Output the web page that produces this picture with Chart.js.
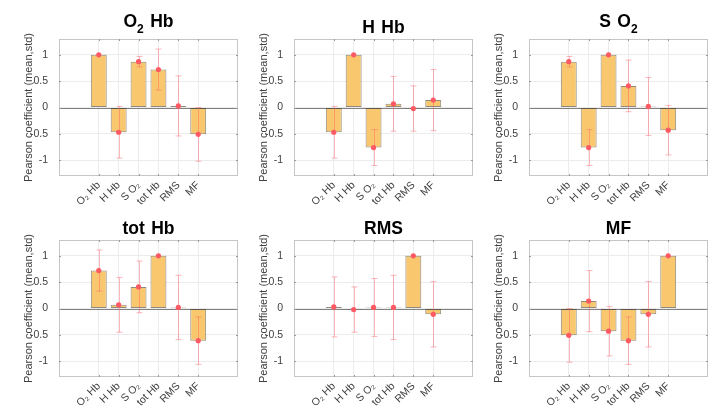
<!DOCTYPE html>
<html>
<head>
<meta charset="utf-8">
<title>Pearson coefficients</title>
<script src="https://cdn.jsdelivr.net/npm/chart.js@4.4.0/dist/chart.umd.min.js"></script>
<style>
  body { margin: 0; background: #fff; }
  #fig { position: relative; width: 722px; height: 420px; overflow: hidden; }
  #fig canvas { position: absolute; }
</style>
</head>
<body>
<div id="fig"></div>
<script>
// categories on the x axis (also used as panel titles)
const categories = ['O₂ Hb', 'H Hb', 'S O₂', 'tot Hb', 'RMS', 'MF'];
const yTicks = [-1, -0.5, 0, 0.5, 1];

// mean and std of the Pearson coefficient, one pair per panel
const meanO2Hb  = [1.00, -0.47, 0.87, 0.72, 0.03, -0.51];
const stdO2Hb   = [0.00, 0.49, 0.10, 0.39, 0.57, 0.51];
const meanHHb   = [-0.47, 1.00, -0.76, 0.07, -0.02, 0.14];
const stdHHb    = [0.49, 0.00, 0.34, 0.52, 0.43, 0.58];
const meanSO2   = [0.87, -0.76, 1.00, 0.41, 0.02, -0.43];
const stdSO2    = [0.10, 0.34, 0.00, 0.49, 0.55, 0.47];
const meanTotHb = [0.72, 0.07, 0.41, 1.00, 0.02, -0.61];
const stdTotHb  = [0.39, 0.52, 0.49, 0.00, 0.61, 0.45];
const meanRMS   = [0.03, -0.02, 0.02, 0.02, 1.00, -0.11];
const stdRMS    = [0.57, 0.43, 0.55, 0.61, 0.00, 0.62];
const meanMF    = [-0.51, 0.14, -0.43, -0.61, -0.11, 1.00];
const stdMF     = [0.51, 0.58, 0.47, 0.45, 0.62, 0.00];

const panels = [
    { title: categories[0], mean: meanO2Hb, std: stdO2Hb },
    { title: categories[1], mean: meanHHb, std: stdHHb },
    { title: categories[2], mean: meanSO2, std: stdSO2 },
    { title: categories[3], mean: meanTotHb, std: stdTotHb },
    { title: categories[4], mean: meanRMS, std: stdRMS },
    { title: categories[5], mean: meanMF, std: stdMF },
];

const FONT = '"Liberation Sans", Arial, Helvetica, sans-serif';
const barFill = 'rgb(249, 200, 110)';
const barEdge = 'rgba(70, 60, 40, 0.6)';
const errColor = 'rgba(255, 95, 105, 0.45)';
const dotColor = 'rgb(255, 90, 100)';
const gridColor = '#ececec';
const boxColor = '#c6c6c6';
const tickColor = '#9a9a9a';
const textColor = '#404040';

// layout of the 2x3 grid
const axLeft = [59, 294, 529];
const axTop = [39, 240];
const axW = 179, axH = 137;
const yAxisW = 59, xAxisH = 43;
const canvasW = 245, canvasH = axTop[0] + axH + xAxisH;

function drawTitle(ctx, text, cx, top) {
    const hasSub = text.includes('₂');
    const base = hasSub ? top - 12 : top - 6;
    const big = 'bold 17.5px ' + FONT;
    const small = 'bold 12px ' + FONT;
    const chars = [...text].map(ch => {
        const sub = ch === '₂';
        const t = sub ? '2' : ch;
        ctx.font = sub ? small : big;
        let w = ctx.measureText(t).width;
        if (ch === ' ') w += 1.5;
        return { t, sub, w };
    });
    const total = chars.reduce((a, c) => a + c.w, 0);
    let x = cx - total / 2;
    ctx.fillStyle = '#000';
    ctx.textAlign = 'left';
    ctx.textBaseline = 'alphabetic';
    chars.forEach(c => {
        ctx.font = c.sub ? small : big;
        if (c.t !== ' ') ctx.fillText(c.t, x, c.sub ? base + 6 : base);
        x += c.w;
    });
}

const decor = {
    id: 'decor',
    beforeDatasetsDraw(chart) {
        const { ctx, chartArea: a, scales: { y } } = chart;
        const y0 = Math.round(y.getPixelForValue(0)) + 0.5;
        ctx.save();
        ctx.strokeStyle = '#808080';
        ctx.lineWidth = 1;
        ctx.beginPath();
        ctx.moveTo(a.left, y0);
        ctx.lineTo(a.right, y0);
        ctx.stroke();
        ctx.restore();
    },
    afterDatasetDraw(chart, args) {
        if (args.meta.type !== 'bar') return;
        const ds = chart.data.datasets[args.index];
        const { ctx, scales: { x, y } } = chart;
        ctx.save();
        ctx.strokeStyle = errColor;
        ctx.lineWidth = 1;
        ds.errors.forEach((s, i) => {
            if (!s) return;
            const m = ds.data[i].y;
            const px = Math.round(x.getPixelForValue(ds.data[i].x)) + 0.5;
            const y1 = y.getPixelForValue(m + s);
            const y2 = y.getPixelForValue(m - s);
            ctx.beginPath();
            ctx.moveTo(px, y1); ctx.lineTo(px, y2);
            ctx.moveTo(px - 3, y1); ctx.lineTo(px + 3, y1);
            ctx.moveTo(px - 3, y2); ctx.lineTo(px + 3, y2);
            ctx.stroke();
        });
        ctx.restore();
    },
    afterDraw(chart) {
        const { ctx, chartArea: a, scales: { x, y } } = chart;
        ctx.save();
        ctx.lineWidth = 1;
        ctx.strokeStyle = boxColor;
        ctx.strokeRect(a.left + 0.5, a.top + 0.5, a.right - a.left - 1, a.bottom - a.top - 1);
        ctx.strokeStyle = tickColor;
        ctx.beginPath();
        yTicks.forEach(v => {
            const py = Math.round(y.getPixelForValue(v)) + 0.5;
            ctx.moveTo(a.left, py); ctx.lineTo(a.left + 2, py);
            ctx.moveTo(a.right, py); ctx.lineTo(a.right - 2, py);
        });
        categories.forEach((c, i) => {
            const px = Math.round(x.getPixelForValue(i + 1)) + 0.5;
            ctx.moveTo(px, a.bottom); ctx.lineTo(px, a.bottom - 2);
            ctx.moveTo(px, a.top); ctx.lineTo(px, a.top + 2);
        });
        ctx.stroke();
        drawTitle(ctx, chart.options.plugins.decor.title, (a.left + a.right) / 2, a.top);
        ctx.restore();
    }
};

const fig = document.getElementById('fig');

panels.forEach((p, k) => {
    const col = k % 3, row = Math.floor(k / 3);
    const canvas = document.createElement('canvas');
    canvas.width = canvasW;
    canvas.height = canvasH;
    canvas.style.left = (axLeft[col] - yAxisW) + 'px';
    canvas.style.top = (axTop[row] - axTop[0]) + 'px';
    fig.appendChild(canvas);

    const points = p.mean.map((m, i) => ({ x: i + 1, y: m }));

    new Chart(canvas, {
        type: 'bar',
        data: {
            datasets: [{
                type: 'line',
                data: points,
                showLine: false,
                pointRadius: 2.6,
                pointBackgroundColor: dotColor,
                pointBorderWidth: 0,
                order: 1,
            }, {
                type: 'bar',
                data: points,
                errors: p.std,
                backgroundColor: barFill,
                borderColor: barEdge,
                borderWidth: 1,
                borderSkipped: false,
                categoryPercentage: 1,
                barPercentage: 0.8,
                order: 2,
            }]
        },
        options: {
            responsive: false,
            animation: false,
            layout: { padding: { top: axTop[0], right: canvasW - yAxisW - axW, left: 0, bottom: 0 } },
            plugins: {
                legend: { display: false },
                title: { display: false },
                tooltip: { enabled: false },
                decor: { title: p.title },
            },
            scales: {
                x: {
                    type: 'linear',
                    min: -1,
                    max: 8,
                    offset: false,
                    grid: { color: gridColor, drawTicks: false, offset: false },
                    border: { display: false },
                    ticks: {
                        stepSize: 1,
                        autoSkip: false,
                        minRotation: 45,
                        maxRotation: 45,
                        padding: 3,
                        color: textColor,
                        font: { family: FONT, size: 10.5 },
                        callback: v => categories[v - 1] || '',
                    },
                    afterBuildTicks: s => { s.ticks = categories.map((c, i) => ({ value: i + 1 })); },
                    afterFit: s => { s.height = xAxisH; },
                },
                y: {
                    min: -1.3,
                    max: 1.3,
                    grid: { color: gridColor, drawTicks: false },
                    border: { display: false },
                    ticks: {
                        padding: 11,
                        color: textColor,
                        font: { family: FONT, size: 10.5 },
                        callback: v => String(v),
                    },
                    afterBuildTicks: s => { s.ticks = yTicks.map(v => ({ value: v })); },
                    title: {
                        display: true,
                        text: 'Pearson coefficient (mean,std)',
                        color: textColor,
                        font: { family: FONT, size: 11 },
                        padding: { top: 22, bottom: 0 },
                    },
                    afterFit: s => { s.width = yAxisW; },
                }
            }
        },
        plugins: [decor]
    });
});
</script>
</body>
</html>
